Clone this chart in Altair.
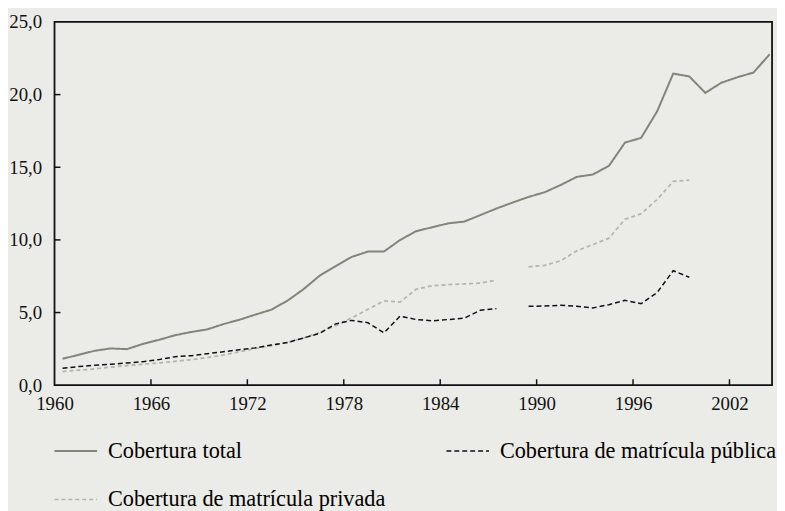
import altair as alt
import pandas as pd

years = list(range(1960, 2005))

total = [1.82, 2.09, 2.37, 2.53, 2.48, 2.84, 3.12, 3.44, 3.66, 3.84,
         4.20, 4.50, 4.86, 5.20, 5.82, 6.61, 7.54, 8.20, 8.83, 9.20,
         9.20, 9.99, 10.60, 10.87, 11.14, 11.26, 11.71, 12.16, 12.57, 12.96,
         13.28, 13.78, 14.34, 14.50, 15.10, 16.70, 17.02, 18.85, 21.45, 21.25,
         20.12, 20.82, 21.20, 21.52, 22.78]

publica = [1.17, 1.28, 1.37, 1.44, 1.53, 1.62, 1.76, 1.96, 2.03, 2.17,
           2.30, 2.44, 2.57, 2.76, 2.94, 3.25, 3.57, 4.22, 4.46, 4.30,
           3.60, 4.75, 4.52, 4.43, 4.52, 4.61, 5.16, 5.27, None, 5.43,
           5.45, 5.50, 5.43, 5.32, 5.54, 5.84, 5.61, 6.38, 7.88, 7.43,
           None, None, None, None, None]

privada = [0.94, 1.03, 1.12, 1.24, 1.35, 1.44, 1.53, 1.64, 1.76, 1.90,
           2.07, 2.30, 2.53, 2.73, 2.94, 3.25, 3.62, 4.10, 4.64, 5.22,
           5.80, 5.72, 6.60, 6.85, 6.92, 6.97, 7.02, 7.24, None, 8.15,
           8.25, 8.56, 9.25, 9.68, 10.12, 11.42, 11.80, 12.78, 14.03, 14.12,
           None, None, None, None, None]

# order chosen so the 2-column legend (filled column by column) reads
# "total | pública" on the first row and "privada" on the second
series_names = ["Cobertura total",
                "Cobertura de matrícula privada",
                "Cobertura de matrícula pública"]
series_values = [total, privada, publica]
series_colors = ["#83847a", "#b4b4ae", "#111111"]
series_dash = [[1, 0], [4, 3], [5, 3]]
series_width = [2.0, 1.5, 2.6]

x_ticks = [1960, 1966, 1972, 1978, 1984, 1990, 1996, 2002]
y_ticks = [0, 5, 10, 15, 20, 25]

rows = []
for name, vals in zip(series_names, series_values):
    for yr, v in zip(years, vals):
        rows.append({"year": yr, "serie": name, "valor": v})
df = pd.DataFrame(rows)

FONT = "Liberation Serif"
W, H = 725, 367

x_scale = alt.Scale(domain=[1960, 2004.65], nice=False, zero=False)
y_scale = alt.Scale(domain=[0, 25], nice=False)

x_axis = alt.Axis(values=x_ticks, format="d", title=None, labelPadding=10,
                  labelFontSize=19, labelFlush=False, labelOverlap=False)
y_axis = alt.Axis(values=y_ticks, title=None, labelPadding=13,
                  labelFontSize=19, labelFlush=False, labelOverlap=False,
                  labelExpr="replace(format(datum.value, '.1f'), '.', ',')")

lines = alt.Chart(df).transform_calculate(
    xpos="datum.year + 0.5"
).mark_line(invalid="break-paths-filter-domains").encode(
    x=alt.X("xpos:Q", scale=x_scale, axis=x_axis),
    y=alt.Y("valor:Q", scale=y_scale, axis=y_axis),
    color=alt.Color(
        "serie:N",
        sort=series_names,
        scale=alt.Scale(domain=series_names, range=series_colors),
        legend=alt.Legend(
            orient="none", legendX=-1, legendY=411, columns=2, title=None,
            symbolType="stroke", symbolSize=1849, labelFont=FONT,
            labelFontSize=22.5, labelColor="#000", labelOffset=10,
            columnPadding=58, rowPadding=15, labelLimit=500,
        ),
    ),
    strokeDash=alt.StrokeDash(
        "serie:N", sort=series_names,
        scale=alt.Scale(domain=series_names, range=series_dash),
    ),
    strokeWidth=alt.StrokeWidth(
        "serie:N", sort=series_names,
        scale=alt.Scale(domain=series_names, range=series_width),
    ),
)

xt = pd.DataFrame({"xpos": x_ticks[1:]})
yt = pd.DataFrame({"valor": y_ticks[1:-1]})

xtick_marks = alt.Chart(xt).mark_rule(color="#111", strokeWidth=1.5).encode(
    x=alt.X("xpos:Q", scale=x_scale, axis=x_axis),
    y=alt.value(H),
    y2=alt.value(H - 6),
)
ytick_marks = alt.Chart(yt).mark_rule(color="#111", strokeWidth=1.5).encode(
    y=alt.Y("valor:Q", scale=y_scale, axis=y_axis),
    x=alt.value(0),
    x2=alt.value(6),
)

chart = alt.layer(lines, xtick_marks, ytick_marks).properties(
    width=W, height=H,
    autosize=alt.AutoSizeParams(type="none"),
    padding={"left": 47, "top": 11.5, "right": 5, "bottom": 124},
    background="#ebebe7",
).configure_view(
    stroke="#111", strokeWidth=1.8,
).configure_axis(
    labelFont=FONT, labelColor="#111", domain=False, ticks=False, grid=False,
)

chart.save("out.html", embed_options={"renderer": "svg", "actions": False})
